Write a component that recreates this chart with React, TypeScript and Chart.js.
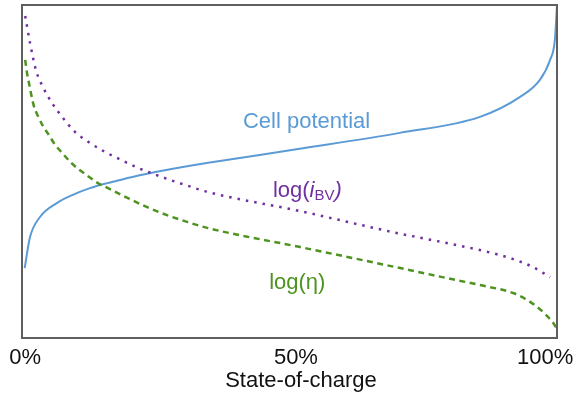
import React, { useEffect, useRef } from "react";
import { Chart, registerables } from "chart.js";

Chart.register(...registerables);

// ---- data (x = state-of-charge in %, y = relative level 0..100) ----
const socPotential = [0.5, 1.5, 3.4, 6.5, 9.5, 12.7, 15.9, 18.9, 22, 25.2, 28.2, 31.4, 34.8, 51.9, 70.6, 85.6, 93.1, 96.8, 98.7, 99.6, 100];
const cellPotential = [21, 30.3, 36.4, 40.5, 43, 45, 46.5, 47.7, 48.9, 49.9, 50.8, 51.7, 52.6, 56.8, 61.6, 66.4, 72.4, 77.5, 83.5, 89.5, 100];

const socIbv = [0.6, 1.5, 2.6, 3.9, 5.6, 7.5, 9.9, 12.5, 15.5, 18.5, 21.5, 24.7, 28, 31.2, 34.6, 52, 69.3, 79.4, 85.6, 91.8, 95.5, 98.7];
const logIbv = [96.7, 88.6, 80.5, 75.4, 70.6, 66.4, 61.9, 58.8, 55.9, 53.5, 51.2, 49.2, 47.3, 45.6, 43.9, 38.1, 31.8, 28.5, 26.4, 23.7, 21.3, 18.3];

const socEta = [0.6, 0.9, 1.3, 1.7, 2.2, 3, 3.9, 5, 6.2, 7.5, 9, 10.5, 12.1, 14.2, 16.1, 19.8, 23.4, 27.1, 31, 34.8, 52, 70.7, 79.4, 85.6, 91.8, 94.1, 96.3, 99.3, 100];
const logEta = [83.5, 79.9, 76.6, 73.3, 69.8, 66.6, 63.7, 61, 58, 55.6, 52.9, 50.8, 48.9, 46.5, 45, 42, 39.3, 36.9, 34.8, 33, 27.3, 21, 18, 15.9, 13.5, 11.7, 9.3, 4.5, 2.7];

const tickValues = [0.6, 51.2, 97.8];
const tickLabels = ["0%", "50%", "100%"];
const xTitle = "State-of-charge";

// curve labels: anchor (left, baseline) in data units
const labelCell = { x: 41.3, y: 63.1 };
const labelIbv = { x: 46.9, y: 42.3 };
const labelEta = { x: 46.2, y: 14.7 };

const BLUE = "#5B9BD5";
const PURPLE = "#7030A0";
const GREEN = "#4E9320";
const FONT = "'Liberation Sans', Arial, sans-serif";

const pts = (xs: number[], ys: number[]) => xs.map((x, i) => ({ x, y: ys[i] }));

const decorPlugin = {
  id: "decor",
  afterDatasetsDraw(chart: any) {
    const { ctx, chartArea } = chart;
    const sx = chart.scales.x;
    const sy = chart.scales.y;
    ctx.save();
    // frame
    ctx.strokeStyle = "#5f5f5f";
    ctx.lineWidth = 2;
    ctx.strokeRect(chartArea.left, chartArea.top, chartArea.right - chartArea.left, chartArea.bottom - chartArea.top);

    ctx.textBaseline = "alphabetic";
    ctx.textAlign = "left";
    // Cell potential
    ctx.fillStyle = BLUE;
    ctx.font = `22px ${FONT}`;
    ctx.fillText("Cell potential", sx.getPixelForValue(labelCell.x), sy.getPixelForValue(labelCell.y));

    // log(i_BV)
    let x = sx.getPixelForValue(labelIbv.x);
    const yb = sy.getPixelForValue(labelIbv.y);
    ctx.fillStyle = PURPLE;
    ctx.font = `22px ${FONT}`;
    ctx.fillText("log(", x, yb);
    x += ctx.measureText("log(").width;
    ctx.font = `italic 22px ${FONT}`;
    ctx.fillText("i", x, yb);
    x += ctx.measureText("i").width;
    ctx.font = `15px ${FONT}`;
    ctx.fillText("BV", x, yb + 3);
    x += ctx.measureText("BV").width;
    ctx.font = `italic 22px ${FONT}`;
    ctx.fillText(")", x, yb);

    // log(η)
    ctx.fillStyle = GREEN;
    ctx.font = `22px ${FONT}`;
    ctx.fillText("log(η)", sx.getPixelForValue(labelEta.x), sy.getPixelForValue(labelEta.y));

    // axis title (placed under the axis, slightly right of centre as in the source)
    ctx.fillStyle = "#111";
    ctx.font = `22px ${FONT}`;
    ctx.textAlign = "center";
    ctx.fillText(xTitle, (chartArea.left + chartArea.right) / 2 + 11.5, chartArea.bottom + 48.5);
    ctx.restore();
  },
};

export default function App() {
  const ref = useRef<HTMLCanvasElement | null>(null);
  useEffect(() => {
    if (!ref.current) return;
    const chart = new Chart(ref.current, {
      type: "line",
      data: {
        datasets: [
          {
            label: "log(i_BV)",
            data: pts(socIbv, logIbv),
            borderColor: PURPLE,
            borderWidth: 2.5,
            borderDash: [2.5, 6],
            pointRadius: 0,
            cubicInterpolationMode: "monotone",
            fill: false,
          },
          {
            label: "log(η)",
            data: pts(socEta, logEta),
            borderColor: GREEN,
            borderWidth: 2.5,
            borderDash: [6, 4.5],
            pointRadius: 0,
            cubicInterpolationMode: "monotone",
            fill: false,
          },
          {
            label: "Cell potential",
            data: pts(socPotential, cellPotential),
            borderColor: BLUE,
            borderWidth: 2,
            pointRadius: 0,
            cubicInterpolationMode: "monotone",
            fill: false,
          },
        ],
      },
      options: {
        animation: false,
        responsive: false,
        maintainAspectRatio: false,
        layout: { padding: { left: 22, top: 5, right: 18, bottom: 0 } },
        plugins: { legend: { display: false }, tooltip: { enabled: false } },
        scales: {
          x: {
            type: "linear",
            min: 0,
            max: 100,
            grid: { display: false, drawTicks: false },
            border: { display: false },
            afterBuildTicks: (scale: any) => {
              scale.ticks = tickValues.map((v) => ({ value: v }));
            },
            afterFit: (scale: any) => {
              scale.height = 57;
              scale.paddingLeft = 0;
              scale.paddingRight = 0;
            },
            ticks: {
              autoSkip: false,
              maxRotation: 0,
              padding: 7,
              color: "#111",
              font: { family: FONT, size: 22 },
              callback: (_v: any, i: number) => tickLabels[i],
            },
            title: { display: false },
          },
          y: { display: false, min: 0, max: 100 },
        },
      },
      plugins: [decorPlugin],
    });
    return () => chart.destroy();
  }, []);
  return (
    <div style={{ position: "fixed", left: 0, top: 0, width: 575, height: 395, background: "#fff" }}>
      <canvas ref={ref} width={575} height={395} style={{ width: 575, height: 395, display: "block" }} />
    </div>
  );
}
